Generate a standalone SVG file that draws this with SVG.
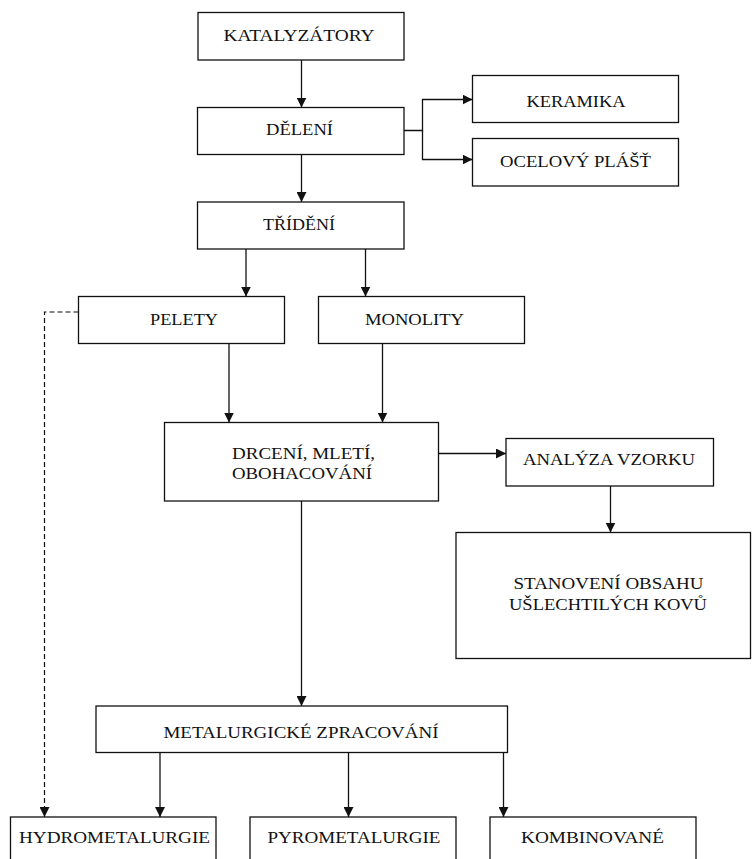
<svg xmlns="http://www.w3.org/2000/svg" width="753" height="859" viewBox="0 0 753 859">
<style>
.box{fill:#fff;stroke:#111;stroke-width:1.3}
.lbl{font-family:"Liberation Serif","Times New Roman",serif;font-size:16px;fill:#111}
.c{fill:none;stroke:#111;stroke-width:1.3}
.d{fill:none;stroke:#111;stroke-width:1.2;stroke-dasharray:5,3}
</style>
<defs>
<marker id="ah" markerUnits="userSpaceOnUse" markerWidth="10" markerHeight="10" refX="10" refY="5" orient="auto">
<path d="M0,0 L10,5 L0,10 z" fill="#111"/>
</marker>
</defs>
<rect width="753" height="859" fill="#fff"/>
<g id="connectors">
<path class="c" d="M301.5,60 V107.5" marker-end="url(#ah)"/>
<path class="c" d="M301.5,154.5 V202" marker-end="url(#ah)"/>
<path class="c" d="M404,130.5 H422.5 V99.5 H472.5" marker-end="url(#ah)"/>
<path class="c" d="M422.5,130.5 V159.5 H472.5" marker-end="url(#ah)"/>
<path class="c" d="M246,249 V296.5" marker-end="url(#ah)"/>
<path class="c" d="M365.5,249 V296.5" marker-end="url(#ah)"/>
<path class="c" d="M229,344 V422.5" marker-end="url(#ah)"/>
<path class="c" d="M382.5,344 V422.5" marker-end="url(#ah)"/>
<path class="c" d="M438.5,453.5 H506" marker-end="url(#ah)"/>
<path class="c" d="M610.5,486 V532.5" marker-end="url(#ah)"/>
<path class="c" d="M301.5,501 V706" marker-end="url(#ah)"/>
<path class="c" d="M160,753 V817" marker-end="url(#ah)"/>
<path class="c" d="M348.5,753 V817" marker-end="url(#ah)"/>
<path class="c" d="M503.5,753 V817" marker-end="url(#ah)"/>
<path class="d" d="M78.5,312 H44.5 V817" marker-end="url(#ah)"/>
</g>
<g id="katalyzatory">
<rect class="box" x="198" y="12.5" width="206" height="47.5"/>
<text class="lbl" x="223.5" y="41" textLength="151" lengthAdjust="spacingAndGlyphs">KATALYZÁTORY</text>
</g>
<g id="deleni">
<rect class="box" x="197.5" y="107.5" width="206.5" height="47"/>
<text class="lbl" x="266" y="135" textLength="67" lengthAdjust="spacingAndGlyphs">DĚLENÍ</text>
</g>
<g id="trideni">
<rect class="box" x="197.5" y="202" width="206.5" height="47"/>
<text class="lbl" x="263" y="230" textLength="72" lengthAdjust="spacingAndGlyphs">TŘÍDĚNÍ</text>
</g>
<g id="keramika">
<rect class="box" x="472.5" y="75.5" width="206" height="47"/>
<text class="lbl" x="526.5" y="106.5" textLength="99" lengthAdjust="spacingAndGlyphs">KERAMIKA</text>
</g>
<g id="ocelovy-plast">
<rect class="box" x="472.5" y="138.5" width="206" height="47.5"/>
<text class="lbl" x="500" y="167" textLength="151" lengthAdjust="spacingAndGlyphs">OCELOVÝ PLÁŠŤ</text>
</g>
<g id="pelety">
<rect class="box" x="78.5" y="296.5" width="206" height="47"/>
<text class="lbl" x="150" y="325" textLength="68" lengthAdjust="spacingAndGlyphs">PELETY</text>
</g>
<g id="monolity">
<rect class="box" x="318.5" y="296.5" width="206" height="47"/>
<text class="lbl" x="365" y="325" textLength="99" lengthAdjust="spacingAndGlyphs">MONOLITY</text>
</g>
<g id="drceni">
<rect class="box" x="164.5" y="422.5" width="274" height="78.5"/>
<text class="lbl" x="232" y="459" textLength="143" lengthAdjust="spacingAndGlyphs">DRCENÍ, MLETÍ,</text>
<text class="lbl" x="232" y="479" textLength="140" lengthAdjust="spacingAndGlyphs">OBOHACOVÁNÍ</text>
</g>
<g id="analyza">
<rect class="box" x="506" y="438.5" width="207.5" height="47.5"/>
<text class="lbl" x="523" y="465" textLength="172" lengthAdjust="spacingAndGlyphs">ANALÝZA VZORKU</text>
</g>
<g id="stanoveni">
<rect class="box" x="456" y="532.5" width="294.5" height="126"/>
<text class="lbl" x="513.5" y="589" textLength="190" lengthAdjust="spacingAndGlyphs">STANOVENÍ OBSAHU</text>
<text class="lbl" x="509" y="609.5" textLength="198" lengthAdjust="spacingAndGlyphs">UŠLECHTILÝCH KOVŮ</text>
</g>
<g id="metalurgicke">
<rect class="box" x="96" y="706" width="411.5" height="46.5"/>
<text class="lbl" x="163.5" y="737.5" textLength="275" lengthAdjust="spacingAndGlyphs">METALURGICKÉ ZPRACOVÁNÍ</text>
</g>
<g id="hydrometalurgie">
<rect class="box" x="10.5" y="817" width="205.5" height="60"/>
<text class="lbl" x="19" y="842.5" textLength="191" lengthAdjust="spacingAndGlyphs">HYDROMETALURGIE</text>
</g>
<g id="pyrometalurgie">
<rect class="box" x="250" y="817" width="206" height="60"/>
<text class="lbl" x="267.5" y="842.5" textLength="173" lengthAdjust="spacingAndGlyphs">PYROMETALURGIE</text>
</g>
<g id="kombinovane">
<rect class="box" x="490" y="817" width="206" height="60"/>
<text class="lbl" x="521" y="842.5" textLength="143" lengthAdjust="spacingAndGlyphs">KOMBINOVANÉ</text>
</g>
</svg>
